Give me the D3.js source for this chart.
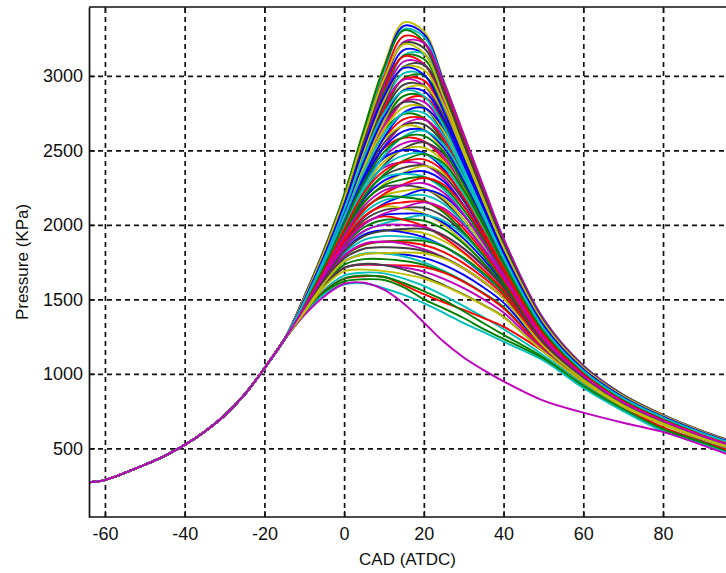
<!DOCTYPE html>
<html><head><meta charset="utf-8">
<script src="https://cdn.jsdelivr.net/npm/d3@7"></script>
<style>body{margin:0;background:#fff;} svg{display:block;}</style>
</head><body><svg id="chart" width="726" height="573"></svg>
<script>
// Shared compression stroke (all cycles overlap here)
const compressionCAD = [-64, -60, -50, -45, -40, -35, -30, -25, -20, -15];
const compressionP   = [272, 287, 390, 450, 523, 612, 720, 860, 1037, 1230];

// CAD grid of each individual cycle after -15
const cycleCAD = [-10, -5, 0, 5, 10, 15, 20, 25, 30, 35, 40, 50, 60, 70, 80, 90, 96];

// Individual cycles (pressure, kPa), highest peak first
const cyclePressure = [
  [1520,1840,2200,2640,3070,3360,3300,2970,2610,2250,1905,1370,1055,860,725,615,558],
  [1516,1832,2187,2617,3032,3314,3262,2948,2592,2238,1896,1365,1052,858,723,614,557],
  [1512,1825,2175,2595,2995,3267,3225,2925,2575,2225,1888,1360,1050,855,722,612,556],
  [1509,1818,2162,2572,2958,3221,3188,2902,2558,2212,1879,1355,1048,852,720,611,554],
  [1505,1810,2150,2550,2920,3175,3150,2880,2540,2200,1870,1350,1045,850,718,610,553],
  [1502,1804,2140,2532,2892,3136,3114,2856,2524,2188,1862,1346,1042,848,716,609,552],
  [1499,1798,2130,2514,2864,3097,3078,2832,2508,2176,1854,1342,1040,846,715,608,551],
  [1496,1792,2120,2496,2836,3058,3042,2808,2492,2164,1846,1338,1037,844,713,606,550],
  [1493,1786,2110,2478,2808,3019,3006,2784,2476,2152,1838,1334,1035,842,712,605,549],
  [1490,1780,2100,2460,2780,2980,2970,2760,2460,2140,1830,1330,1032,840,710,604,548],
  [1487,1774,2092,2444,2752,2942,2934,2734,2442,2128,1822,1325,1030,838,709,603,547],
  [1484,1768,2084,2428,2724,2904,2898,2708,2424,2116,1814,1320,1027,837,707,602,546],
  [1481,1762,2076,2412,2696,2866,2862,2682,2406,2104,1806,1315,1025,835,706,600,545],
  [1478,1756,2068,2396,2668,2828,2826,2656,2388,2092,1798,1310,1022,834,704,599,544],
  [1475,1750,2060,2380,2640,2790,2790,2630,2370,2080,1790,1305,1020,832,703,598,543],
  [1472,1744,2050,2362,2610,2750,2752,2602,2350,2066,1781,1301,1018,830,702,597,542],
  [1470,1738,2040,2344,2580,2710,2713,2574,2330,2052,1772,1297,1015,828,700,596,541],
  [1467,1732,2030,2326,2550,2670,2675,2546,2310,2038,1763,1293,1013,827,699,594,540],
  [1465,1726,2020,2308,2520,2630,2636,2518,2290,2024,1754,1289,1010,825,697,593,539],
  [1462,1720,2010,2290,2490,2590,2598,2490,2270,2010,1745,1285,1008,823,696,592,538],
  [1460,1714,2000,2272,2458,2549,2558,2458,2248,1996,1736,1280,1005,821,695,591,537],
  [1457,1708,1990,2254,2426,2508,2519,2426,2226,1982,1727,1275,1003,819,693,590,536],
  [1455,1702,1980,2236,2394,2467,2479,2394,2204,1968,1718,1270,1000,818,692,588,535],
  [1452,1696,1970,2218,2362,2426,2440,2362,2182,1954,1709,1265,998,816,690,587,534],
  [1450,1690,1960,2200,2330,2385,2400,2330,2160,1940,1700,1260,995,814,689,586,533],
  [1448,1685,1949,2176,2297,2346,2360,2292,2130,1920,1689,1255,992,812,688,585,532],
  [1446,1680,1938,2152,2264,2307,2320,2254,2100,1900,1678,1250,990,811,686,584,531],
  [1444,1675,1927,2128,2231,2268,2280,2216,2070,1880,1667,1245,987,809,685,582,529],
  [1442,1670,1916,2104,2198,2229,2240,2178,2040,1860,1656,1240,985,808,683,581,528],
  [1440,1665,1905,2080,2165,2190,2200,2140,2010,1840,1645,1235,982,806,682,580,527],
  [1438,1660,1892,2056,2132,2152,2157,2098,1976,1816,1632,1230,980,804,681,579,526],
  [1436,1655,1879,2032,2099,2114,2114,2056,1942,1792,1619,1225,977,803,679,578,525],
  [1434,1650,1866,2008,2066,2076,2071,2014,1908,1768,1606,1220,975,801,678,576,523],
  [1432,1645,1853,1984,2033,2038,2028,1972,1874,1744,1593,1215,972,800,676,575,522],
  [1430,1640,1840,1960,2000,2000,1985,1930,1840,1720,1580,1210,970,798,675,574,521],
  [1428,1634,1824,1930,1962,1961,1945,1892,1808,1695,1562,1204,967,796,673,572,520],
  [1425,1628,1808,1900,1925,1922,1905,1855,1775,1670,1545,1198,964,794,672,571,518],
  [1422,1621,1791,1870,1888,1884,1865,1818,1742,1645,1528,1191,961,792,670,570,516],
  [1420,1615,1775,1840,1850,1845,1825,1780,1710,1620,1510,1185,958,790,668,568,515],
  [1418,1608,1754,1805,1810,1801,1779,1732,1665,1580,1478,1176,955,788,666,566,514],
  [1415,1600,1732,1770,1770,1758,1732,1685,1620,1540,1445,1168,952,785,664,565,512],
  [1412,1592,1711,1735,1730,1714,1686,1638,1575,1500,1412,1159,948,782,662,563,511],
  [1410,1585,1690,1700,1690,1670,1640,1590,1530,1460,1380,1150,945,780,660,562,510]
];

// Further cycles with slightly earlier / later combustion phasing
const phasedCyclePressure = [
  [1518,1836,2194,2628,3051,3337,3281,2959,2601,2244,1900,1368,1054,859,724,614,558],
  [1514,1834,2201,2646,3054,3306,3229,2902,2544,2197,1867,1353,1046,857,723,613,557],
  [1511,1817,2149,2544,2937,3229,3222,2949,2607,2254,1909,1368,1054,854,721,612,555],
  [1507,1819,2176,2601,2979,3213,3154,2856,2509,2171,1850,1343,1042,851,719,611,554],
  [1504,1802,2125,2501,2866,3141,3147,2903,2572,2229,1891,1358,1049,849,717,610,553],
  [1501,1806,2155,2563,2918,3132,3081,2809,2476,2147,1833,1334,1036,847,716,609,552],
  [1498,1790,2105,2465,2810,3063,3075,2855,2540,2205,1875,1350,1044,845,714,607,551],
  [1495,1794,2135,2527,2862,3054,3009,2761,2444,2123,1817,1326,1031,843,713,606,550],
  [1492,1778,2085,2429,2754,2985,3003,2807,2508,2181,1859,1342,1039,841,711,605,549],
  [1489,1782,2116,2492,2806,2976,2937,2712,2411,2099,1801,1318,1026,839,710,604,548],
  [1486,1766,2068,2396,2698,2908,2931,2756,2473,2157,1843,1333,1034,838,708,603,547],
  [1483,1770,2100,2460,2750,2900,2865,2660,2375,2075,1785,1308,1021,836,707,601,546],
  [1480,1754,2052,2364,2642,2832,2859,2704,2437,2133,1827,1323,1029,835,705,600,545],
  [1477,1758,2084,2428,2694,2824,2793,2608,2339,2051,1769,1298,1016,833,704,599,544],
  [1474,1742,2035,2331,2585,2755,2786,2651,2400,2108,1811,1313,1024,831,703,598,543],
  [1471,1746,2065,2393,2635,2745,2718,2553,2300,2024,1752,1289,1012,829,701,597,542],
  [1469,1730,2015,2295,2525,2675,2709,2595,2360,2080,1793,1305,1019,828,700,595,541],
  [1466,1734,2045,2357,2575,2665,2641,2497,2260,1996,1734,1281,1007,826,698,594,540],
  [1464,1718,1995,2259,2465,2595,2632,2539,2320,2052,1775,1297,1014,824,697,593,539],
  [1461,1722,2025,2321,2514,2585,2563,2439,2219,1968,1716,1273,1002,822,696,592,538],
  [1459,1706,1975,2223,2402,2514,2554,2477,2277,2024,1757,1288,1009,820,694,591,537],
  [1456,1710,2005,2285,2450,2503,2484,2375,2175,1940,1698,1263,997,819,693,589,536],
  [1454,1694,1955,2187,2338,2432,2475,2413,2233,1996,1739,1278,1004,817,691,588,535],
  [1451,1698,1985,2249,2386,2421,2405,2311,2131,1912,1680,1253,992,815,690,587,534],
  [1449,1683,1935,2148,2274,2351,2395,2346,2185,1965,1720,1268,999,813,689,586,533],
  [1447,1688,1964,2204,2321,2342,2325,2238,2075,1875,1659,1243,986,812,687,585,532],
  [1445,1673,1913,2100,2208,2273,2315,2270,2125,1925,1698,1258,994,810,686,583,530],
  [1443,1678,1942,2156,2255,2264,2245,2162,2015,1835,1637,1233,981,809,684,582,529],
  [1441,1663,1891,2052,2142,2195,2235,2194,2065,1885,1676,1248,989,807,683,581,528],
  [1439,1668,1919,2108,2189,2186,2164,2084,1953,1793,1614,1223,976,805,682,580,527],
  [1437,1653,1866,2004,2076,2118,2151,2112,1999,1839,1651,1238,984,804,680,579,526],
  [1435,1658,1893,2060,2123,2110,2078,2000,1885,1745,1588,1213,971,802,679,577,524],
  [1433,1643,1840,1956,2010,2042,2065,2028,1931,1791,1625,1228,979,801,677,576,523],
  [1431,1648,1867,2012,2057,2034,1992,1916,1817,1697,1562,1203,966,799,676,575,522],
  [1429,1634,1822,1925,1961,1973,1973,1929,1844,1726,1583,1212,972,797,674,573,521],
  [1427,1634,1826,1935,1964,1950,1917,1856,1772,1665,1542,1196,963,795,673,572,519],
  [1424,1622,1790,1865,1887,1895,1893,1855,1779,1676,1549,1200,966,793,671,571,517],
  [1421,1621,1793,1875,1889,1873,1837,1781,1706,1615,1507,1183,957,791,669,569,516],
  [1419,1609,1755,1803,1810,1815,1810,1774,1708,1618,1506,1186,960,789,667,567,515],
  [1417,1607,1753,1808,1810,1788,1748,1691,1623,1542,1450,1167,951,787,665,566,513],
  [1414,1593,1712,1733,1730,1728,1717,1680,1618,1538,1441,1169,953,784,663,564,512],
  [1411,1592,1711,1738,1730,1700,1655,1596,1533,1462,1384,1150,944,781,661,563,511]
];

// Slowest / weakest cycles at the bottom of the bundle
const lowCyclePressure = [
  [1405,1565,1660,1680,1675,1640,1590,1525,1455,1380,1300,1125,930,770,640,548,495],
  [1405,1555,1640,1655,1652,1595,1535,1480,1430,1375,1317,1150,950,780,640,545,490],
  [1402,1550,1640,1660,1650,1610,1555,1495,1420,1340,1262,1110,920,762,630,540,478],
  [1400,1545,1620,1635,1630,1580,1500,1440,1375,1300,1235,1100,915,755,620,530,465],
  [1400,1535,1600,1608,1575,1530,1475,1410,1340,1280,1216,1090,905,750,615,525,470],
  [1395,1520,1605,1612,1565,1470,1345,1215,1110,1025,950,820,740,672,610,520,462]
];
const lowCycleColors = ["#00BFBF", "#FF0000", "#008000", "#008000", "#00BFBF", "#BF00BF"];

const lineColors = ["#BFBF00", "#0000FF", "#00BFBF", "#008000", "#FF0000", "#BF00BF", "#404040"];

const xTicks = [-60, -40, -20, 0, 20, 40, 60, 80];
const yTicks = [500, 1000, 1500, 2000, 2500, 3000];

const xLabel = "CAD (ATDC)";
const yLabel = "Pressure (KPa)";

// ---------- layout ----------
const L = 89, T = 7, R = 726, B = 517;

const svg = d3.select("#chart");
const x = d3.scaleLinear().domain([-64, 95.8]).range([L, R]);
const y = d3.scaleLinear().domain([39, 3463]).range([B, T]);

svg.append("defs").append("clipPath").attr("id", "plotclip")
  .append("rect").attr("x", L).attr("y", T).attr("width", R - L + 5).attr("height", B - T);

// grid
const grid = svg.append("g");
grid.append("g").attr("transform", `translate(0,${B})`)
  .call(d3.axisBottom(x).tickValues(xTicks).tickSize(-(B - T)).tickFormat(""))
  .call(g => g.select(".domain").remove());
grid.append("g").attr("transform", `translate(${L},0)`)
  .call(d3.axisLeft(y).tickValues(yTicks).tickSize(-(R - L)).tickFormat(""))
  .call(g => g.select(".domain").remove());
grid.selectAll(".tick line")
  .attr("stroke", "#111").attr("stroke-width", 1.7).attr("stroke-dasharray", "5,4");

// curves
const line = d3.line()
  .x(d => x(d[0])).y(d => y(d[1]))
  .curve(d3.curveCatmullRom.alpha(0.5));

function pointsOf(values) {
  const pts = compressionCAD.map((c, i) => [c, compressionP[i]]);
  cycleCAD.forEach((c, i) => pts.push([c, values[i]]));
  return pts;
}

// interleave regular and phased cycles, colour them in MATLAB's cycling order
const bundle = [];
cyclePressure.forEach((v, i) => {
  bundle.push(v);
  if (i < phasedCyclePressure.length) bundle.push(phasedCyclePressure[i]);
});
const n = bundle.length;
const mainData = bundle.map((v, i) => ({ pts: pointsOf(v), color: lineColors[i % lineColors.length] }));
const drawOrder = d3.range(n).map(i => mainData[(i * 31) % n]);
const lowData = lowCyclePressure.map((v, i) => ({ pts: pointsOf(v), color: lowCycleColors[i] }));

const curves = svg.append("g").attr("clip-path", "url(#plotclip)");
curves.selectAll("path").data(lowData.concat(drawOrder)).join("path")
  .attr("d", d => line(d.pts))
  .attr("fill", "none")
  .attr("stroke", d => d.color)
  .attr("stroke-width", 1.9)
  .attr("stroke-linejoin", "round");

// axes
const font = "'Liberation Sans', Arial, Helvetica, sans-serif";
const ax = svg.append("g");
const xAxis = ax.append("g").attr("transform", `translate(0,${B})`)
  .call(d3.axisBottom(x).tickValues(xTicks).tickSizeInner(-6).tickSizeOuter(0).tickPadding(10).tickFormat(d3.format("d")));
const yAxis = ax.append("g").attr("transform", `translate(${L},0)`)
  .call(d3.axisLeft(y).tickValues(yTicks).tickSizeInner(-6).tickSizeOuter(0).tickPadding(6).tickFormat(d3.format("d")));
const topAxis = ax.append("g").attr("transform", `translate(0,${T})`)
  .call(d3.axisTop(x).tickValues(xTicks).tickSizeInner(-6).tickSizeOuter(0).tickFormat(""));

[xAxis, yAxis, topAxis].forEach(g => {
  g.select(".domain").attr("stroke", "#111").attr("stroke-width", 1.7);
  g.selectAll(".tick line").attr("stroke", "#111").attr("stroke-width", 1.4);
  g.selectAll("text").attr("fill", "#111").style("font-family", font).style("font-size", "18px");
});
xAxis.select(".domain").attr("d", `M${L},0H${R + 2}`);
topAxis.select(".domain").attr("d", `M${L},0H${R + 2}`);
xAxis.selectAll("text").text(d => d < 0 ? "-" + Math.abs(d) : d);

svg.append("text").attr("x", (L + R) / 2).attr("y", 559).attr("dy", "0.35em")
  .attr("text-anchor", "middle").style("font-family", font).style("font-size", "17px").attr("fill", "#111")
  .text(xLabel);
svg.append("text").attr("transform", `translate(22,${(T + B) / 2}) rotate(-90)`).attr("dy", "0.35em")
  .attr("text-anchor", "middle").style("font-family", font).style("font-size", "17px").attr("fill", "#111")
  .text(yLabel);
</script>
</body></html>
